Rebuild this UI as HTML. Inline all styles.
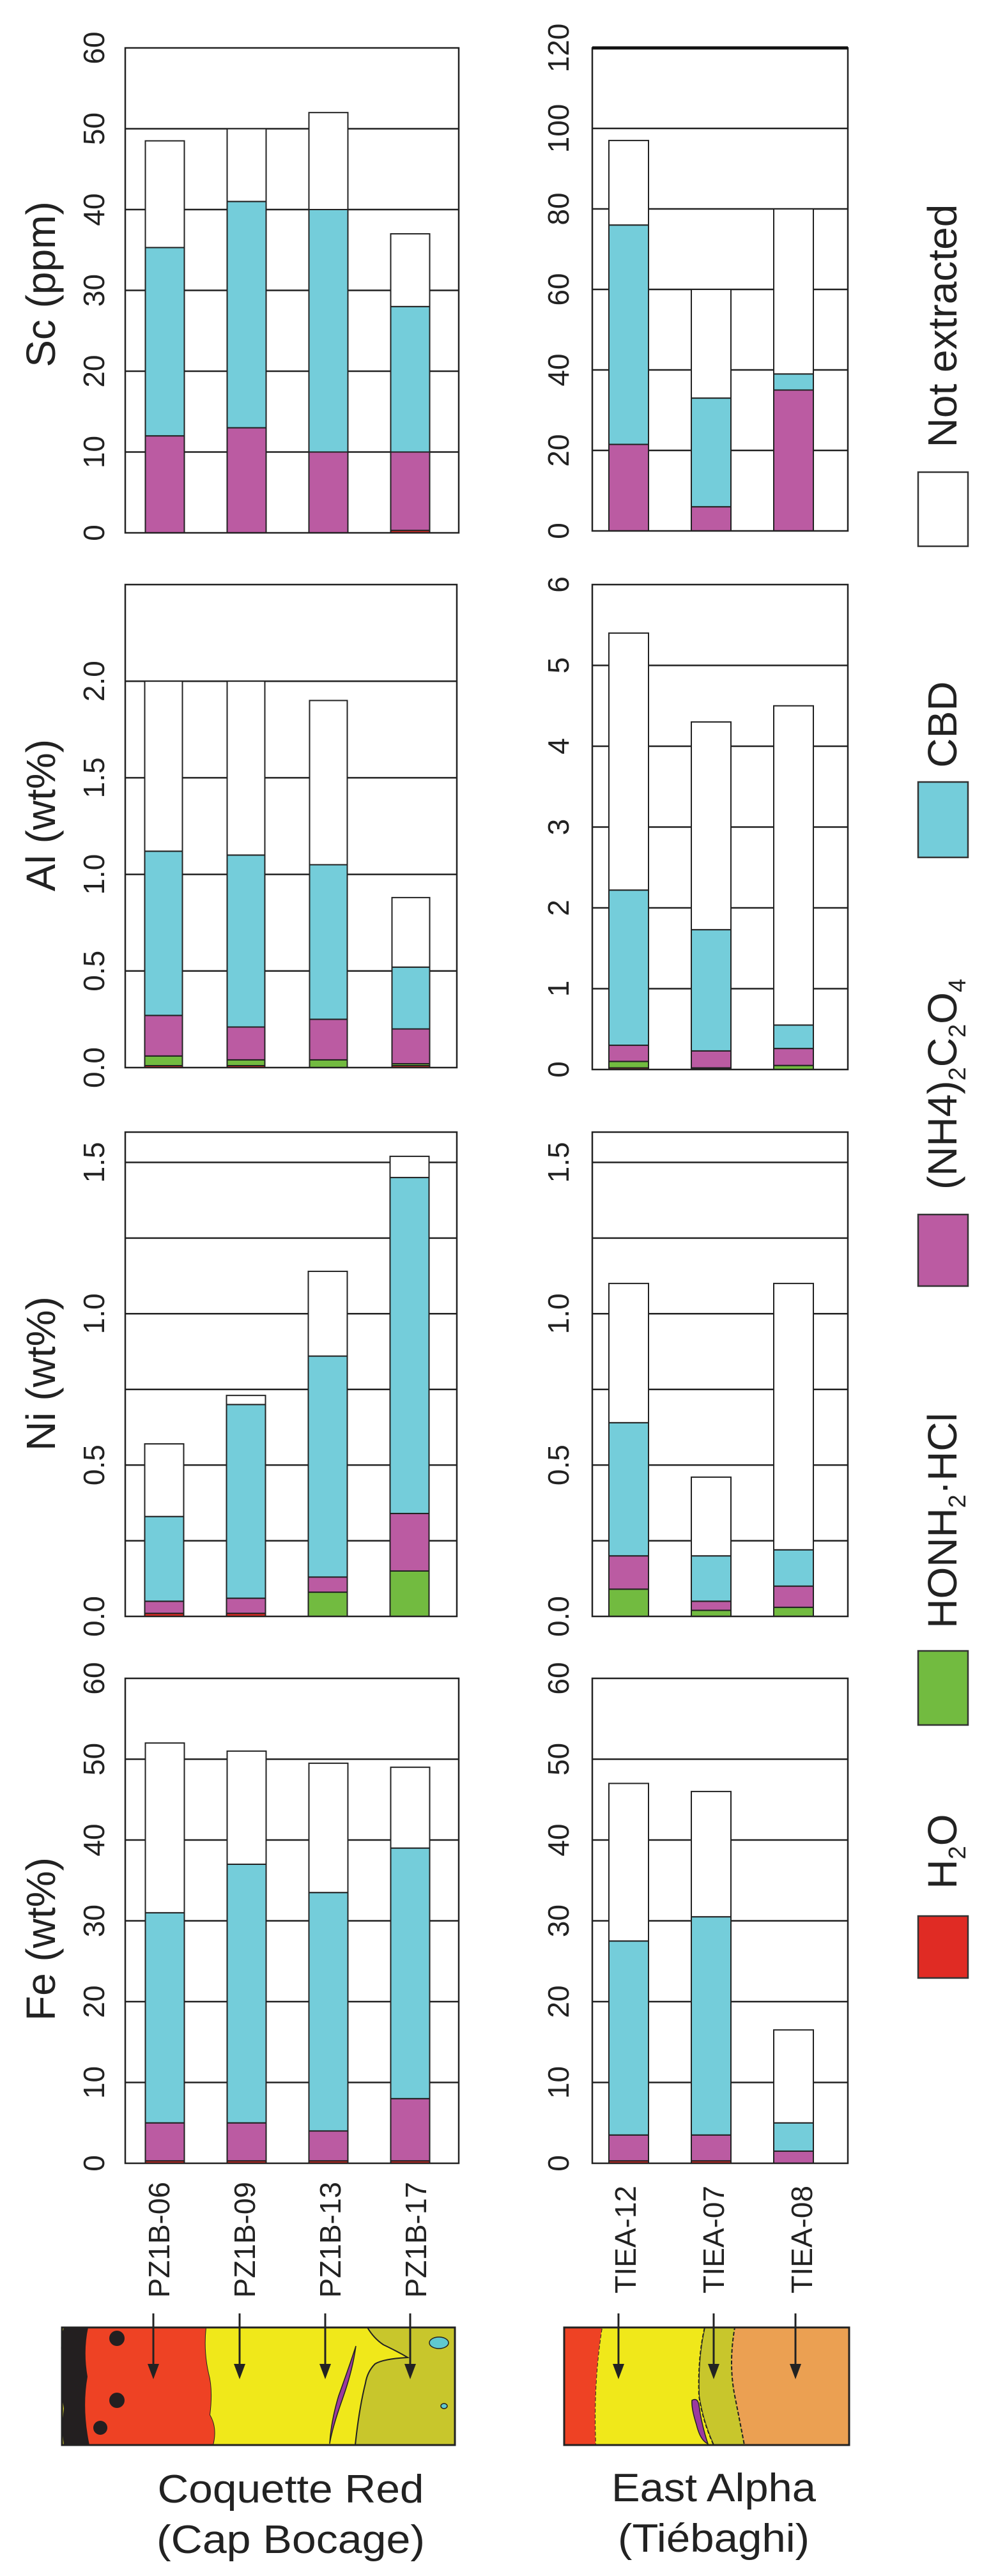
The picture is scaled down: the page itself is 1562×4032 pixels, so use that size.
<!DOCTYPE html>
<html><head><meta charset="utf-8">
<style>
html,body{margin:0;padding:0;background:#fff;}
svg{display:block;font-family:"Liberation Sans",Arial,sans-serif;}
</style></head>
<body>
<svg id="fig" width="1562" height="4032" viewBox="0 0 1562 4032" xmlns="http://www.w3.org/2000/svg">
<g id="panels"></g>
<g id="legend"></g>
<g id="profiles"></g>
</svg>
<script>
// ---------- DATA ----------
const samplesLeft = ['PZ1B-06','PZ1B-09','PZ1B-13','PZ1B-17'];
const samplesRight = ['TIEA-12','TIEA-07','TIEA-08'];
// layer amounts: h2o, honh2 (HONH2·HCl), oxa ((NH4)2C2O4), cbd ; total = bar height
const scL_h2o=[0,0,0,0.3], scL_hon=[0,0,0,0], scL_oxa=[12,13,10,9.7], scL_cbd=[23.3,28,30,18], scL_tot=[48.5,50,52,37];
const scR_h2o=[0,0,0], scR_hon=[0,0,0], scR_oxa=[21.5,6,35], scR_cbd=[54.5,27,4], scR_tot=[97,60,80];
const alL_h2o=[0.01,0.01,0,0.01], alL_hon=[0.05,0.03,0.04,0.01], alL_oxa=[0.21,0.17,0.21,0.18], alL_cbd=[0.85,0.89,0.8,0.32], alL_tot=[2.0,2.0,1.9,0.88];
const alR_h2o=[0.02,0.01,0], alR_hon=[0.08,0.01,0.05], alR_oxa=[0.2,0.21,0.21], alR_cbd=[1.92,1.5,0.29], alR_tot=[5.4,4.3,4.5];
const niL_h2o=[0.01,0.01,0,0], niL_hon=[0,0,0.08,0.15], niL_oxa=[0.04,0.05,0.05,0.19], niL_cbd=[0.28,0.64,0.73,1.11], niL_tot=[0.57,0.73,1.14,1.52];
const niR_h2o=[0,0,0], niR_hon=[0.09,0.02,0.03], niR_oxa=[0.11,0.03,0.07], niR_cbd=[0.44,0.15,0.12], niR_tot=[1.1,0.46,1.1];
const feL_h2o=[0.3,0.3,0.3,0.3], feL_hon=[0,0,0,0], feL_oxa=[4.7,4.7,3.7,7.7], feL_cbd=[26,32,29.5,31], feL_tot=[52,51,49.5,49];
const feR_h2o=[0.3,0.3,0], feR_hon=[0,0,0], feR_oxa=[3.2,3.2,1.5], feR_cbd=[24,27,3.5], feR_tot=[47,46,16.5];
const scTicksL=[0,10,20,30,40,50,60], scTicksR=[0,20,40,60,80,100,120];
const alTicksL=[0,0.5,1.0,1.5,2.0], alTicksR=[0,1,2,3,4,5,6];
const niTicks=[0,0.5,1.0,1.5], niGrid=[0.25,0.5,0.75,1.0,1.25,1.5];
const feTicks=[0,10,20,30,40,50,60];

const COL={h2o:'#e02b24',hon:'#72bb40',oxa:'#bb5ba2',cbd:'#74cdda',ne:'#ffffff'};
const NS='http://www.w3.org/2000/svg';
function mk(tag,attrs,parent){const e=document.createElementNS(NS,tag);for(const k in attrs)e.setAttribute(k,attrs[k]);parent.appendChild(e);return e;}
const panelsG=document.getElementById('panels');

function drawPanel(name,x0,x1,yTop,yBot,max,ticks,labels,grid,labelX,barX0,barStep,barW,layers,tot,thickTop){
  const g=mk('g',{},panelsG);
  
  
  const y=v=>yBot-(v/max)*(yBot-yTop);
  grid.forEach(v=>{const l=mk('line',{x1:x0,x2:x1,y1:y(v),y2:y(v),stroke:'#222','stroke-width':2.5},g);
    });
  ticks.forEach((v,i)=>{const t=mk('text',{transform:`translate(${labelX},${y(v)}) rotate(-90)`,'text-anchor':'middle','font-size':46,fill:'#222'},g);
    t.textContent=labels[i];});
  tot.forEach((T,i)=>{
    const cx=barX0+i*barStep, bx=cx-barW/2;
    let base=0;
    layers.forEach(([key,arr])=>{const v=arr[i];if(v>0){const r=mk('rect',{x:bx,y:y(base+v),width:barW,height:y(base)-y(base+v),fill:COL[key],stroke:'#222','stroke-width':2},g);
      }base+=v;});
    if(T>base){const r=mk('rect',{x:bx,y:y(T),width:barW,height:y(base)-y(T),fill:'#fff',stroke:'#222','stroke-width':2},g);
      }
  });
  const f=mk('rect',{x:x0,y:yTop,width:x1-x0,height:yBot-yTop,fill:'none',stroke:'#222','stroke-width':2.5},g);
  
  if(thickTop){const l=mk('line',{x1:x0,x2:x1,y1:yTop,y2:yTop,stroke:'#111','stroke-width':5},g);}
}
const L=(h,n,o,c)=>[['h2o',h],['hon',n],['oxa',o],['cbd',c]];
const fmt1=a=>a.map(v=>v.toFixed(1)), fmt0=a=>a.map(v=>String(v));
// left: x 196-718, bars 258 + 128*i ; right: x 927-1327, bars 984 + 129*i
drawPanel('sc-left-panel',196,718,75,834,60,scTicksL,fmt0(scTicksL),scTicksL.slice(1,-1),163,258,128,61,L(scL_h2o,scL_hon,scL_oxa,scL_cbd),scL_tot);
drawPanel('sc-right-panel',927,1327,75,831,120,scTicksR,fmt0(scTicksR),scTicksR.slice(1,-1),890,984,129,62,L(scR_h2o,scR_hon,scR_oxa,scR_cbd),scR_tot,true);
drawPanel('al-left-panel',196,715,915,1671,2.5,alTicksL,fmt1(alTicksL),alTicksL.slice(1),163,256,129,59,L(alL_h2o,alL_hon,alL_oxa,alL_cbd),alL_tot);
drawPanel('al-right-panel',927,1327,915,1674,6,alTicksR,fmt0(alTicksR),alTicksR.slice(1,-1),890,984,129,62,L(alR_h2o,alR_hon,alR_oxa,alR_cbd),alR_tot);
drawPanel('ni-left-panel',196,715,1772,2530,1.6,niTicks,fmt1(niTicks),niGrid,163,257,128,61,L(niL_h2o,niL_hon,niL_oxa,niL_cbd),niL_tot);
drawPanel('ni-right-panel',927,1327,1772,2530,1.6,niTicks,fmt1(niTicks),niGrid,890,984,129,62,L(niR_h2o,niR_hon,niR_oxa,niR_cbd),niR_tot);
drawPanel('fe-left-panel',196,718,2627,3386,60,feTicks,fmt0(feTicks),feTicks.slice(1,-1),163,258,128,61,L(feL_h2o,feL_hon,feL_oxa,feL_cbd),feL_tot);
drawPanel('fe-right-panel',927,1327,2627,3386,60,feTicks,fmt0(feTicks),feTicks.slice(1,-1),890,984,129,62,L(feR_h2o,feR_hon,feR_oxa,feR_cbd),feR_tot);

// axis titles
const titles=[['Sc (ppm)',445,'sc-axis-title'],['Al (wt%)',1276,'al-axis-title'],['Ni (wt%)',2150,'ni-axis-title'],['Fe (wt%)',3035,'fe-axis-title']];
titles.forEach(([s,cy,n])=>{const t=mk('text',{transform:`translate(86,${cy}) rotate(-90)`,'text-anchor':'middle','font-size':64,fill:'#222'},panelsG);
  t.textContent=s;});
// sample labels
samplesLeft.forEach((s,i)=>{const t=mk('text',{transform:`translate(${265+i*134},3415) rotate(-90)`,'text-anchor':'end','font-size':46,fill:'#222'},panelsG);
  t.textContent=s;});
samplesRight.forEach((s,i)=>{const t=mk('text',{transform:`translate(${995+i*138},3421) rotate(-90)`,'text-anchor':'end','font-size':46,fill:'#222'},panelsG);
  t.textContent=s;});
</script>

<script>
// legend
(function(){
const g=document.getElementById('legend');
const NS='http://www.w3.org/2000/svg';
function mk(tag,attrs,parent){const e=document.createElementNS(NS,tag);for(const k in attrs)e.setAttribute(k,attrs[k]);parent.appendChild(e);return e;}
const boxes=[['#ffffff',739,855,'legend-swatch-not-extracted'],['#74cdda',1224,1342,'legend-swatch-cbd'],['#bb5ba2',1901,2013,'legend-swatch-oxalate'],['#72bb40',2584,2700,'legend-swatch-honh2-hcl'],['#e02b24',2999,3096,'legend-swatch-h2o']];
boxes.forEach(([c,y0,y1,n])=>{const r=mk('rect',{x:1437,y:y0,width:78,height:y1-y0,fill:c,stroke:'#333','stroke-width':2.5},g);
  });
function txt(cy,parts,n){const t=mk('text',{transform:`translate(1497,${cy}) rotate(-90)`,'text-anchor':'middle','font-size':64,fill:'#222'},g);
  
  parts.forEach(p=>{const s=mk('tspan',p[1]?{'font-size':38,dy:14}:{dy:0},t);s.textContent=p[0];
    if(p[1]){/* reset baseline after subscript */}
  });
  // fix baselines: subscripts shift down, next normal shifts back
  let prevSub=false;
  Array.from(t.childNodes).forEach(s=>{const isSub=s.getAttribute('font-size')==='38';
    if(isSub&&!prevSub)s.setAttribute('dy',14);else if(isSub&&prevSub)s.setAttribute('dy',0);else if(!isSub&&prevSub)s.setAttribute('dy',-14);else s.setAttribute('dy',0);prevSub=isSub;});
}
txt(510,[['Not extracted']],'legend-label-not-extracted');
txt(1134,[['CBD']],'legend-label-cbd');
txt(1697,[['(NH4)'],['2',1],['C'],['2',1],['O'],['4',1]],'legend-label-oxalate');
txt(2380,[['HONH'],['2',1],['·HCl']],'legend-label-honh2-hcl');
txt(2898,[['H'],['2',1],['O']],'legend-label-h2o');
})();
</script>

<script>
(function(){
const g=document.getElementById('profiles');
const NS='http://www.w3.org/2000/svg';
function mk(tag,attrs,parent){const e=document.createElementNS(NS,tag);for(const k in attrs)e.setAttribute(k,attrs[k]);parent.appendChild(e);return e;}
function P(d,fill,n,extra){const p=mk('path',Object.assign({d:d,fill:fill,stroke:'#222','stroke-width':2},extra||{}),g);return p;}
// left profile: box 97-712, 3643-3827
P('M97 3643 H712 V3827 H97 Z','#c8c62c','olive-zone');
P('M322 3643 H575 Q585 3660 600 3670 Q625 3682 638 3690 Q600 3692 587 3700 Q575 3712 572 3730 Q562 3770 556 3827 H333 Q340 3800 328 3780 Q333 3740 326 3715 Q318 3680 322 3643 Z','#f0e81a','yellow-zone');
P('M100 3643 H322 Q318 3680 326 3715 Q333 3740 328 3780 Q340 3800 333 3827 H100 Z','#ee4224','red-zone',{stroke:'none'});
P('M100 3643 H138 Q130 3680 137 3720 Q128 3770 140 3827 H100 Q96 3800 100 3770 Q93 3730 98 3700 Q92 3670 100 3643 Z','#231f20','black-zone',{stroke:'none'});
[[183,3660,12],[183,3757,12],[157,3800,11]].forEach(([x,y,r])=>{const c=mk('circle',{cx:x,cy:y,r:r,fill:'#231f20'},g);});
P('M557 3672 Q548 3700 530 3750 Q518 3790 516 3825 Q520 3800 536 3755 Q552 3710 557 3672 Z','#9b3a9f','purple-vein',{'stroke-width':1.5});
const e1=mk('ellipse',{cx:687,cy:3667,rx:15,ry:9,fill:'#5fc9cf',stroke:'#222','stroke-width':1.5},g);
const e2=mk('ellipse',{cx:695,cy:3766,rx:5,ry:4,fill:'#5fc9cf',stroke:'#222','stroke-width':1.5},g);
P('M97 3643 H712 V3827 H97 Z','none','left-profile-frame',{'stroke-width':3});
// right profile: box 883-1329
P('M883 3643 H1329 V3827 H883 Z','#eba052','orange-zone');
P('M1103 3643 H1150 Q1140 3700 1150 3750 Q1158 3790 1165 3827 H1117 Q1100 3790 1094 3750 Q1092 3690 1103 3643 Z','#c8c62c','olive-strip',{'stroke-dasharray':'6 3'});
P('M942 3643 H1103 Q1092 3690 1094 3750 Q1100 3790 1117 3827 H932 Q928 3730 942 3643 Z','#f0e81a','yellow-zone-right',{'stroke-dasharray':'6 3'});
P('M883 3643 H942 Q928 3730 932 3827 H883 Z','#ee4224','red-zone-right',{stroke:'none'});
P('M1083 3757 Q1092 3752 1094 3765 Q1098 3795 1108 3825 Q1096 3820 1090 3795 Q1082 3770 1083 3757 Z','#9b3a9f','purple-vein-right',{'stroke-width':1.5});
P('M883 3643 H1329 V3827 H883 Z','none','right-profile-frame',{'stroke-width':3});
// arrows
[240,375,509,642,968,1117,1245].forEach(x=>{
  const l=mk('line',{x1:x,x2:x,y1:3621,y2:3712,stroke:'#222','stroke-width':3},g);
  const h=mk('path',{d:`M${x-9} 3700 L${x} 3724 L${x+9} 3700 Z`,fill:'#222'},g);
});
// captions
const cap=[['Coquette Red',455,3917,417,'caption-coquette-red'],['(Cap Bocage)',455,3996,420,'caption-cap-bocage'],['East Alpha',1117,3915,320,'caption-east-alpha'],['(Tiébaghi)',1117,3994,300,'caption-tiebaghi']];
cap.forEach(([s,x,y,w,n])=>{const t=mk('text',{x:x,y:y,'text-anchor':'middle','font-size':62,fill:'#222',textLength:w,lengthAdjust:'spacingAndGlyphs','font-family':'"Liberation Sans Narrow","Liberation Sans",sans-serif'},g);
  t.textContent=s;});
})();
</script>
</body></html>
